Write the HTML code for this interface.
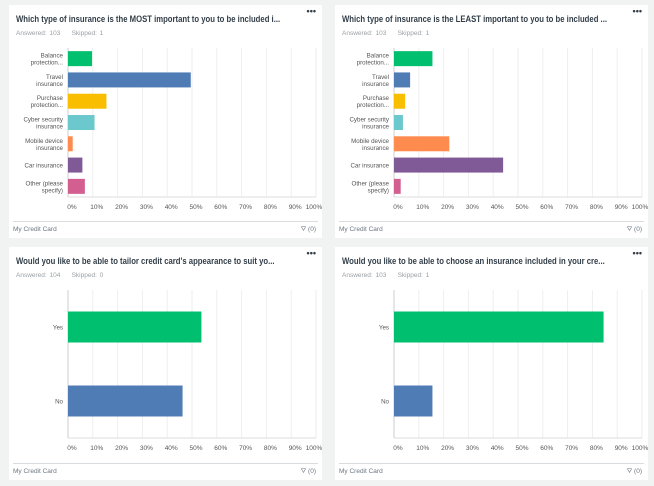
<!DOCTYPE html>
<html><head><meta charset="utf-8"><style>
body{margin:0;width:654px;height:486px;background:#f1f2f2;font-family:"Liberation Sans",sans-serif;overflow:hidden;position:relative}
.panel{position:absolute;background:#fff;width:313px;height:233px;overflow:hidden}
.t{position:absolute;left:7px;top:9px;font-size:9.2px;font-weight:bold;color:#333e48;white-space:nowrap;transform:scaleX(0.84);transform-origin:0 0}
.m{position:absolute;left:7px;top:25px;font-size:6.5px;color:#9aa0a5;word-spacing:1px}
.dots{position:absolute;right:6px;top:1px;font-size:9px;font-weight:bold;color:#333e48}
.foot{position:absolute;left:4px;right:4px;top:216px;border-top:1px solid #d9dcde}
.fl{position:absolute;left:4px;top:221px;font-size:6.5px;color:#6b7782}
.fr{position:absolute;right:6px;top:221px;font-size:6.5px;color:#6b7782}
svg{position:absolute;left:0;top:0}
</style></head><body>
<div id="root"></div>
<script>
const cats1=["Balance|protection...","Travel|insurance","Purchase|protection...","Cyber security|insurance","Mobile device|insurance","Car insurance","Other (please|specify)"];
const vals1=[9.7,49.5,15.5,10.7,1.9,5.8,6.8];
const vals2=[15.5,6.5,4.5,3.6,22.3,44,2.7];
const cats3=["Yes","No"];
const vals3=[53.8,46.2];
const vals4=[84.5,15.5];
const colors7=["#00bf6f","#507cb6","#f9be00","#6bc8cd","#ff8b4f","#7f5a96","#d25f90"];
const ticks=["0%","10%","20%","30%","40%","50%","60%","70%","80%","90%","100%"];
const panels=[
 {x:9,y:5,title:"Which type of insurance is the MOST important to you to be included i...",ans:"Answered: 103",sk:"Skipped: 1",cats:cats1,vals:vals1,top:43,bot:192,bh:15},
 {x:335,y:5,title:"Which type of insurance is the LEAST important to you to be included ...",ans:"Answered: 103",sk:"Skipped: 1",cats:cats1,vals:vals2,top:43,bot:192,bh:15},
 {x:9,y:247,title:"Would you like to be able to tailor credit card's appearance to suit yo...",ans:"Answered: 104",sk:"Skipped: 0",cats:cats3,vals:vals3,top:43,bot:191,bh:31},
 {x:335,y:247,title:"Would you like to be able to choose an insurance included in your cre...",ans:"Answered: 103",sk:"Skipped: 1",cats:cats3,vals:vals4,top:43,bot:191,bh:31}];
const NS="http://www.w3.org/2000/svg";
const root=document.getElementById('root');
panels.forEach((p,pi)=>{
 const d=document.createElement('div');d.className='panel';d.style.left=p.x+'px';d.style.top=p.y+'px';
 
 
 d.innerHTML='<div class="t">'+p.title+'</div><div class="m">'+p.ans+'&nbsp;&nbsp;&nbsp;&nbsp;'+p.sk+'</div><div class="dots">•••</div><div class="foot"></div><div class="fl">My Credit Card</div><div class="fr">⛛ (0)</div>';
 const svg=document.createElementNS(NS,'svg');svg.setAttribute('width',313);svg.setAttribute('height',233);
 const x0=59,w=248;const X=v=>x0+v/100*w;
 let h='';
 for(let i=0;i<=10;i++){const gx=X(i*10);h+=`<line x1="${gx}" x2="${gx}" y1="${p.top}" y2="${p.bot}" stroke="${i==0?'#ccc':'#eee'}" stroke-width="1"/>`;
  h+=`<text x="${gx+ (i==10?-2:4)}" y="${p.bot+12}" font-size="6.5" fill="#555" text-anchor="middle">${ticks[i]}</text>`;}
 h+=`<line x1="${x0}" x2="${x0+w}" y1="${p.bot}" y2="${p.bot}" stroke="#ddd"/>`;
 const n=p.cats.length,step=(p.bot-p.top)/n;
 p.cats.forEach((c,i)=>{const cy=p.top+step*(i+0.5);
  const col=n==2?(i==0?"#00bf6f":"#507cb6"):colors7[i];
  h+=`<rect x="${x0}" y="${cy-p.bh/2}" width="${X(p.vals[i])-x0}" height="${p.bh}" fill="${col}"/>`;
  const lines=c.split('|');lines.forEach((l,j)=>{h+=`<text x="${x0-5}" y="${cy+2.5+(j-(lines.length-1)/2)*7}" font-size="6.2" fill="#555" text-anchor="end">${l}</text>`;});
 });
 svg.innerHTML=h;d.appendChild(svg);root.appendChild(d);
});
</script>
</body></html>
